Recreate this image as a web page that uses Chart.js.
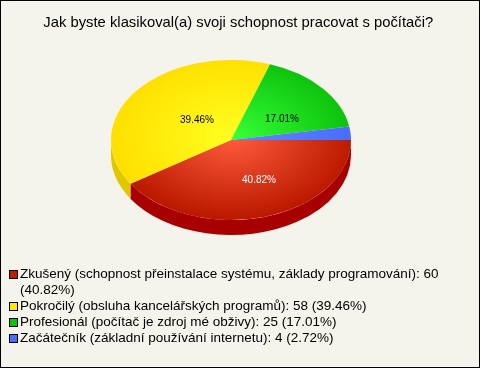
<!DOCTYPE html>
<html>
<head>
<meta charset="utf-8">
<style>html,body{margin:0;padding:0;background:#f5f4ec}canvas{display:block}</style>
<script src="https://cdn.jsdelivr.net/npm/chart.js@4/dist/chart.umd.js"></script>
</head>
<body>
<canvas id="c" width="480" height="368"></canvas>
<script>
const titleText = "Jak byste klasikoval(a) svoji schopnost pracovat s počítači?";
const categories = ["Zkušený (schopnost přeinstalace systému, základy programování)", "Pokročilý (obsluha kancelářských programů)", "Profesionál (počítač je zdroj mé obživy)", "Začátečník (základní používání internetu)"];
const values = [60, 58, 25, 4];
const percents = ["40.82%", "39.46%", "17.01%", "2.72%"];
const innerColors = ["#ff5c3c", "#ffff20", "#36ff36", "#5f86ff"];
const outerColors = ["#bb1a00", "#ffe000", "#0cc20c", "#4a6cff"];
const sideColors = ["#a80000", "#e0c800", "#0a9a0a", "#3350c0"];
const legendColors = ["#c01c00", "#ffe800", "#0cc20c", "#4a6cff"];
const labelColors = ["#ffffff", "#000000", "#000000"];
const labelOffsets = [[28, 40], [-34, -20], [51, -21]];

const PIE = {cx: 231, cy: 140, r: 120, squash: 2 / 3, depth: 15};

function place(chart, ctx, arc) {
  ctx.translate(PIE.cx, PIE.cy);
  ctx.scale(1, PIE.squash);
  ctx.translate(-arc.x, -arc.y);
}

const frame = {
  id: "frame",
  beforeDraw(chart) {
    const c = chart.ctx;
    c.save();
    c.fillStyle = "#f5f4ec";
    c.fillRect(0, 0, chart.width, chart.height);
    c.strokeStyle = "#000";
    c.lineWidth = 1;
    c.strokeRect(0.5, 0.5, chart.width - 1, chart.height - 1);
    c.restore();
  },
  afterDraw(chart) {
    // legend swatches, placed from the legend's own item boxes
    const c = chart.ctx;
    const boxes = chart.legend.legendHitBoxes;
    const items = chart.legend.legendItems;
    c.save();
    items.forEach((item, k) => {
      if (item.swatch === undefined) return;
      const b = boxes[k];
      const x = Math.round(b.left) + 1.5, y = Math.round(b.top) + 2.5;
      c.fillStyle = legendColors[item.swatch];
      c.strokeStyle = "#000";
      c.lineWidth = 1;
      c.fillRect(x, y, 8, 8);
      c.strokeRect(x, y, 8, 8);
    });
    c.restore();
  }
};

const tilt = {
  id: "tilt",
  beforeDatasetsDraw(chart) {
    const c = chart.ctx;
    const arcs = chart.getDatasetMeta(0).data;
    // side wall, only the front half of the rim is visible
    arcs.forEach((arc, i) => {
      const a0 = Math.max(arc.startAngle, 0);
      const a1 = Math.min(arc.endAngle, Math.PI);
      if (a1 <= a0) return;
      c.save();
      c.translate(PIE.cx, PIE.cy);
      c.beginPath();
      c.ellipse(0, 0, PIE.r, PIE.r * PIE.squash, 0, a0, a1);
      c.ellipse(0, PIE.depth, PIE.r, PIE.r * PIE.squash, 0, a1, a0, true);
      c.closePath();
      c.fillStyle = sideColors[i];
      c.fill();
      c.restore();
    });
    c.save();
    place(chart, c, arcs[0]);
  },
  afterDatasetsDraw(chart) {
    const c = chart.ctx;
    c.restore();
    c.save();
    c.font = "10px 'Liberation Sans'";
    c.textAlign = "center";
    c.textBaseline = "middle";
    labelOffsets.forEach((o, i) => {
      c.fillStyle = labelColors[i];
      c.fillText(percents[i], PIE.cx + o[0], PIE.cy + o[1]);
    });
    c.restore();
  }
};

new Chart(document.getElementById("c"), {
  type: "pie",
  data: {
    labels: categories,
    datasets: [{
      data: values,
      radius: PIE.r,
      borderWidth: 0,
      backgroundColor(ctx) {
        const arc = ctx.chart.getDatasetMeta(0).data[ctx.dataIndex];
        const x = arc && arc.x ? arc.x : 240, y = arc && arc.y ? arc.y : 150;
        const g = ctx.chart.ctx.createRadialGradient(x, y, 0, x, y, PIE.r);
        g.addColorStop(0, innerColors[ctx.dataIndex]);
        g.addColorStop(1, outerColors[ctx.dataIndex]);
        return g;
      }
    }]
  },
  options: {
    responsive: false,
    animation: false,
    rotation: 90,
    layout: {padding: {left: 5.5, right: 9, top: 0, bottom: 13}},
    plugins: {
      tooltip: {enabled: false},
      title: {
        display: true,
        text: titleText,
        color: "#000",
        font: {family: "'Liberation Sans'", size: 14.8, weight: "normal"},
        padding: {top: 14, bottom: 10}
      },
      legend: {
        display: true,
        position: "bottom",
        align: "start",
        onClick: null,
        labels: {
          boxWidth: 5.25,
          boxHeight: 10,
          padding: 2.4,
          color: "#000",
          font: {family: "'Liberation Sans'", size: 13.5},
          generateLabels() {
            const rows = [];
            categories.forEach((name, i) => {
              const full = name + ": " + values[i];
              const tail = "(" + percents[i] + ")";
              const common = {fillStyle: "rgba(0,0,0,0)", strokeStyle: "rgba(0,0,0,0)", lineWidth: 0};
              if (i === 0) {
                rows.push({...common, text: full, swatch: i});
                // trailing no-break spaces keep the wrapped remainder on its own row
                rows.push({...common, text: tail + "\u00A0".repeat(90)});
              } else {
                rows.push({...common, text: full + " " + tail, swatch: i});
              }
            });
            return rows;
          }
        }
      }
    }
  },
  plugins: [frame, tilt]
});
</script>
</body>
</html>
